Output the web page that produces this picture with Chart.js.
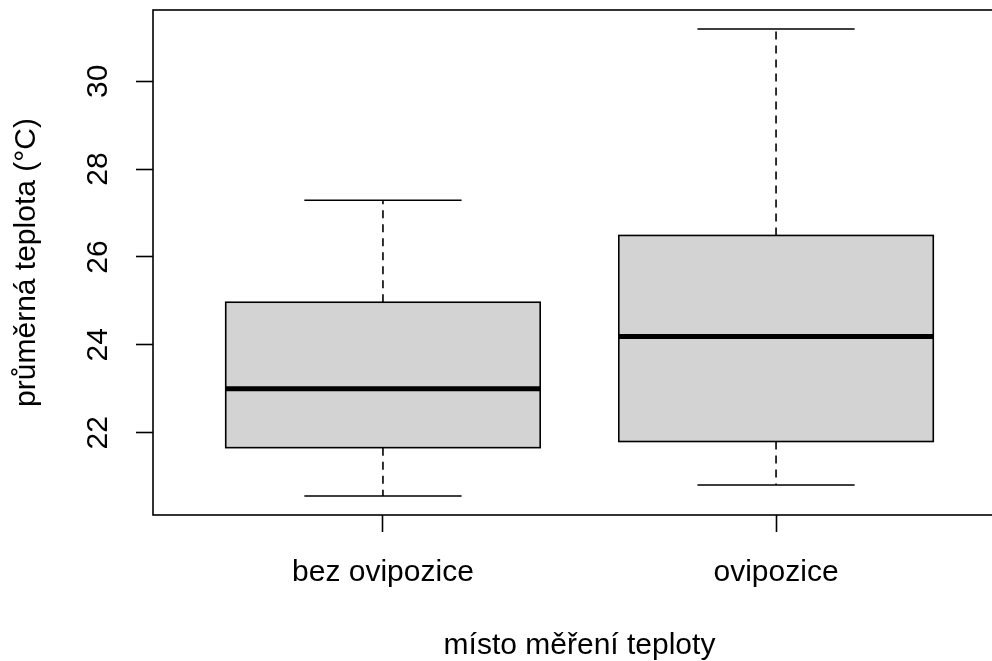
<!DOCTYPE html>
<html>
<head>
<meta charset="utf-8">
<script src="https://cdn.jsdelivr.net/npm/chart.js@4"></script>
<style>
body { margin: 0; overflow: hidden; background: #fff; }
</style>
</head>
<body>
<canvas id="myChart" width="1010" height="661"></canvas>
<script>
// box plot values
var groups = ['bez ovipozice', 'ovipozice'];
var mins = [20.56, 20.81];
var q1s = [21.66, 21.80];
var medians = [23.00, 24.19];
var q3s = [24.97, 26.49];
var maxs = [27.29, 31.19];
var yTicks = [22, 24, 26, 28, 30];

var fontName = '"Liberation Sans", Arial, sans-serif';

// draws the boxes, whiskers and the frame with the chart scales
var boxPlugin = {
    id: 'boxes',
    afterDraw: function(chart) {
        var ctx = chart.ctx;
        var xs = chart.scales.x;
        var ys = chart.scales.y;
        var area = chart.chartArea;
        ctx.save();
        for (var i = 0; i < groups.length; i++) {
            var c = i + 1;
            var xc = xs.getPixelForValue(c);
            var bl = xs.getPixelForValue(c - 0.4);
            var br = xs.getPixelForValue(c + 0.4);
            var cl = xs.getPixelForValue(c - 0.2);
            var cr = xs.getPixelForValue(c + 0.2);
            var yMin = ys.getPixelForValue(mins[i]);
            var yQ1 = ys.getPixelForValue(q1s[i]);
            var yMed = ys.getPixelForValue(medians[i]);
            var yQ3 = ys.getPixelForValue(q3s[i]);
            var yMax = ys.getPixelForValue(maxs[i]);

            // whiskers
            ctx.strokeStyle = '#000';
            ctx.lineWidth = 1.6;
            ctx.setLineDash([8, 6]);
            ctx.beginPath();
            ctx.moveTo(xc, yQ3);
            ctx.lineTo(xc, yMax);
            ctx.moveTo(xc, yQ1);
            ctx.lineTo(xc, yMin);
            ctx.stroke();
            ctx.setLineDash([]);

            // caps
            ctx.beginPath();
            ctx.moveTo(cl, yMax);
            ctx.lineTo(cr, yMax);
            ctx.moveTo(cl, yMin);
            ctx.lineTo(cr, yMin);
            ctx.stroke();

            // box
            ctx.fillStyle = '#d3d3d3';
            ctx.fillRect(bl, yQ3, br - bl, yQ1 - yQ3);
            ctx.lineWidth = 1.6;
            ctx.strokeRect(bl, yQ3, br - bl, yQ1 - yQ3);

            // median
            ctx.lineWidth = 5;
            ctx.beginPath();
            ctx.moveTo(bl, yMed);
            ctx.lineTo(br, yMed);
            ctx.stroke();
        }
        // frame
        ctx.lineWidth = 1.6;
        ctx.strokeRect(area.left, area.top, area.right - area.left, area.bottom - area.top);
        ctx.restore();
    }
};

var ctx = document.getElementById('myChart').getContext('2d');
var chart = new Chart(ctx, {
    type: 'scatter',
    data: { datasets: [] },
    plugins: [boxPlugin],
    options: {
        responsive: false,
        animation: false,
        layout: { padding: { top: 10, right: 4, bottom: 0, left: 0 } },
        plugins: { legend: { display: false }, tooltip: { enabled: false } },
        scales: {
            x: {
                type: 'linear',
                min: 0.415,
                max: 2.585,
                afterBuildTicks: function(scale) {
                    scale.ticks = groups.map(function(g, i) { return { value: i + 1 }; });
                },
                afterFit: function(scale) {
                    scale.height = 146;
                    scale.paddingLeft = 0;
                    scale.paddingRight = 0;
                },
                grid: { drawOnChartArea: false, drawTicks: true, tickLength: 17, color: '#000', tickWidth: 1.6 },
                border: { display: false },
                ticks: {
                    autoSkip: false,
                    maxRotation: 0,
                    padding: 23,
                    color: '#000',
                    font: { family: fontName, size: 30 },
                    callback: function(value) { return groups[value - 1]; }
                },
                title: {
                    display: true,
                    text: 'místo měření teploty',
                    color: '#000',
                    font: { family: fontName, size: 30, lineHeight: 1.0 },
                    padding: { top: 0, bottom: 0 }
                }
            },
            y: {
                min: 20.127,
                max: 31.622,
                afterBuildTicks: function(scale) {
                    scale.ticks = yTicks.map(function(v) { return { value: v }; });
                },
                afterFit: function(scale) {
                    scale.width = 153;
                    scale.paddingTop = 0;
                    scale.paddingBottom = 0;
                },
                grid: { drawOnChartArea: false, drawTicks: true, tickLength: 17, color: '#000', tickWidth: 1.6 },
                border: { display: false },
                ticks: {
                    autoSkip: false,
                    minRotation: 90,
                    maxRotation: 90,
                    crossAlign: 'center',
                    padding: 21,
                    color: '#000',
                    font: { family: fontName, size: 30 }
                },
                title: {
                    display: true,
                    text: 'průměrná teplota (°C)',
                    color: '#000',
                    font: { family: fontName, size: 30, lineHeight: 1.2 },
                    padding: { top: 9, bottom: 0 }
                }
            }
        }
    }
});
</script>
</body>
</html>
